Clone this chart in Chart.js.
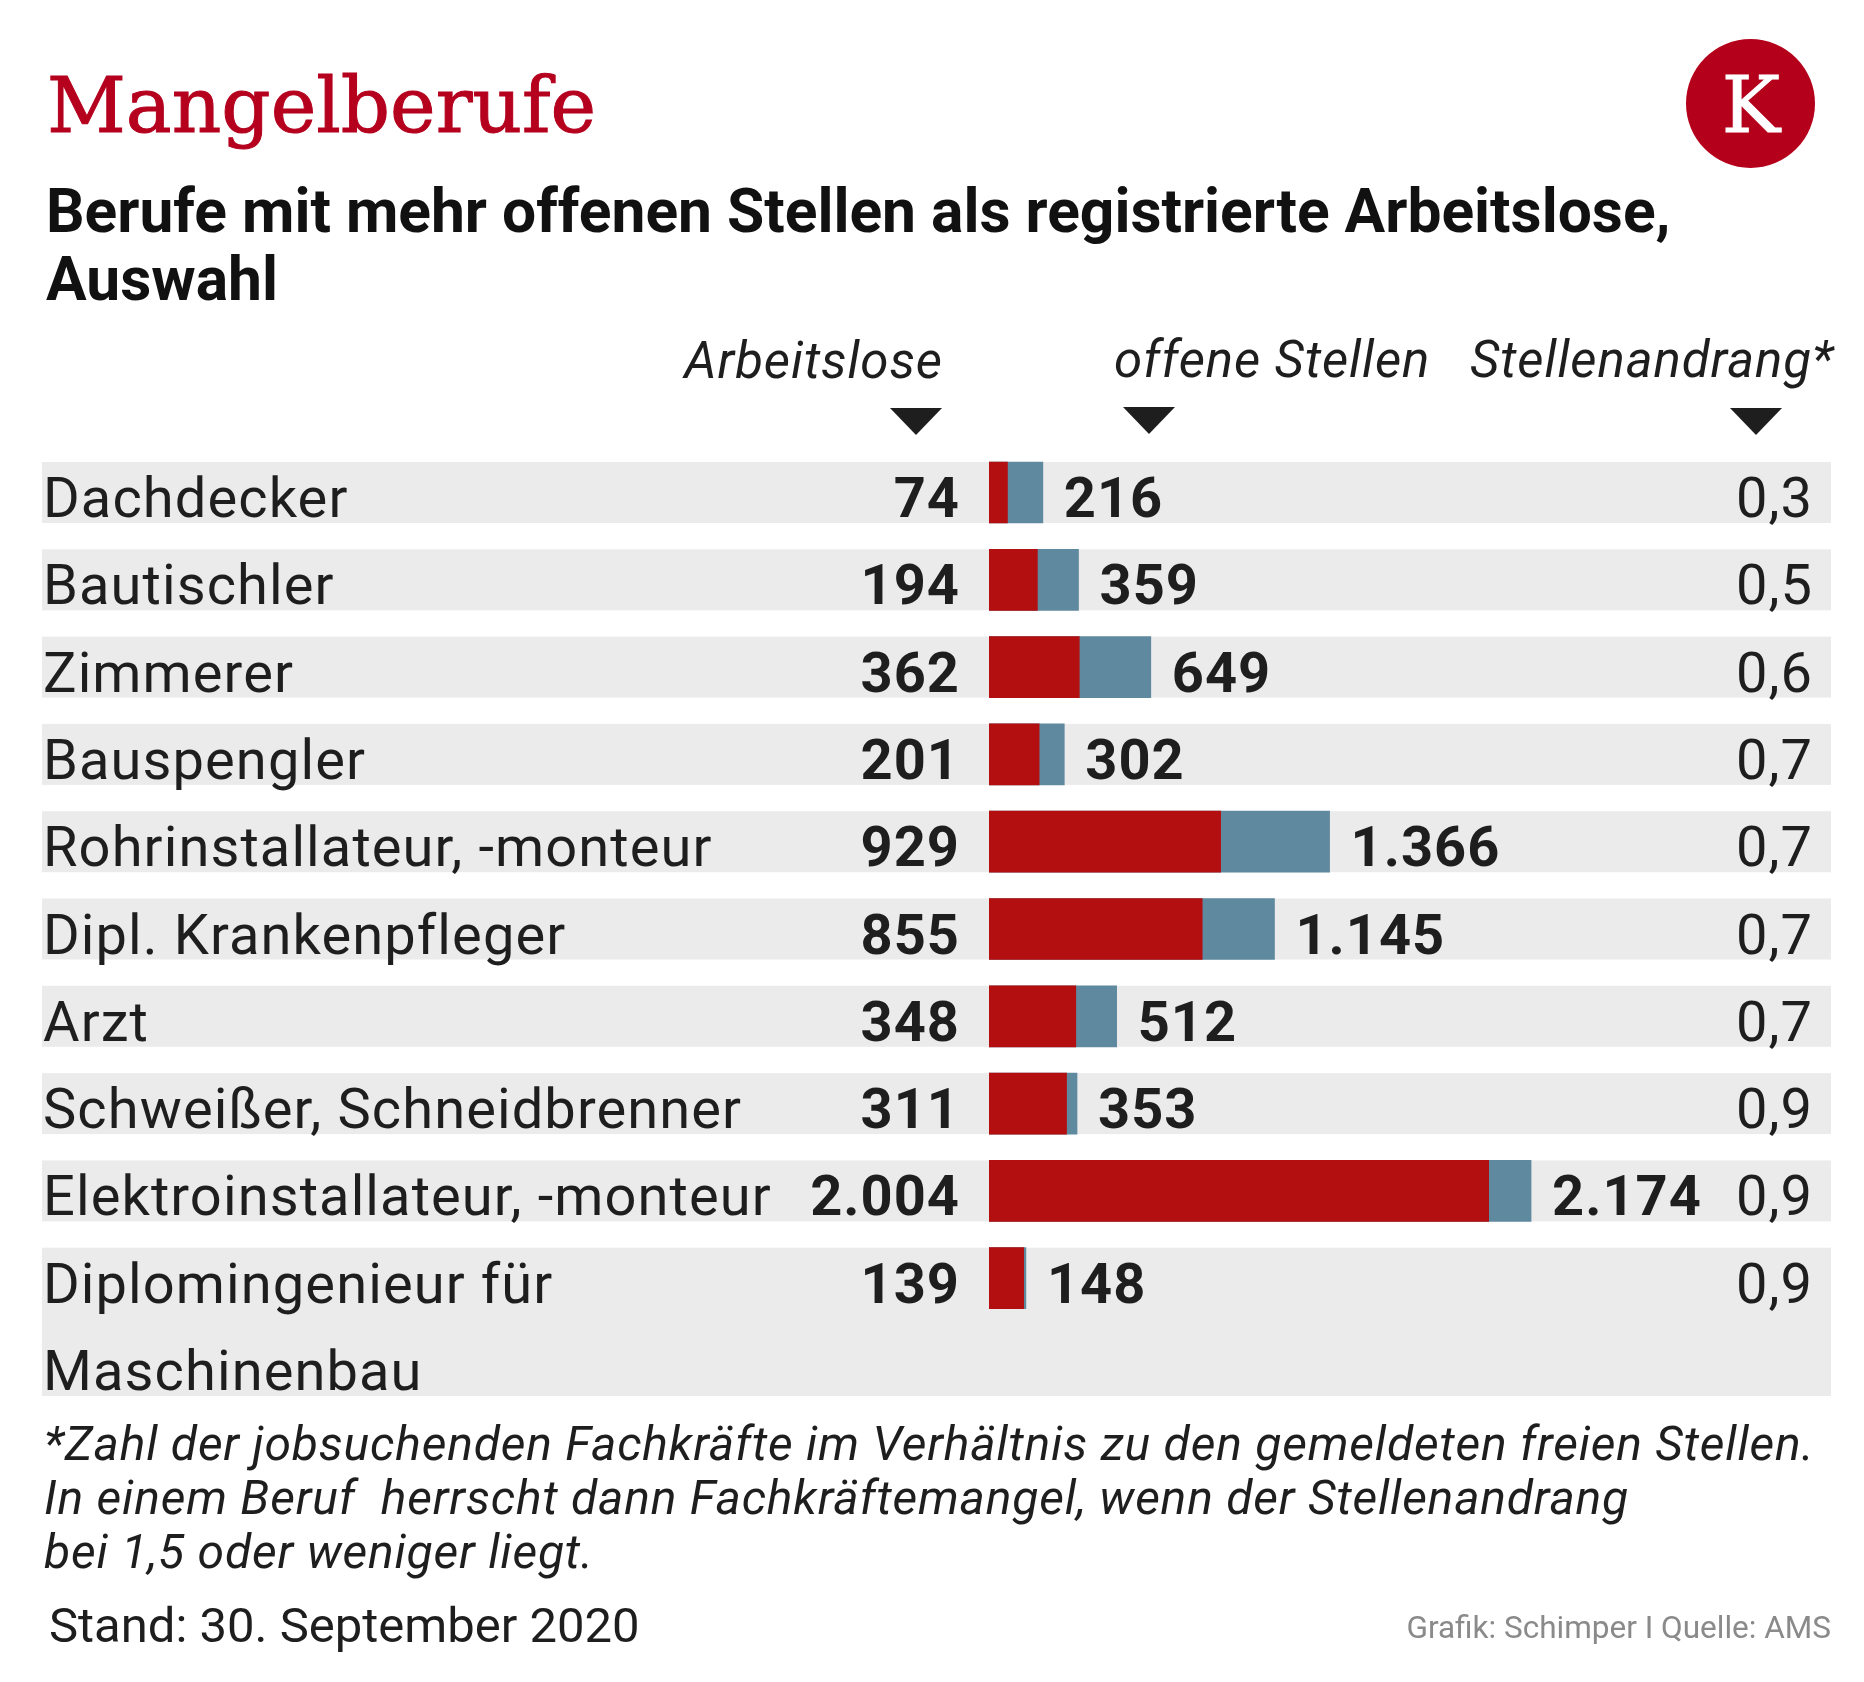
<!DOCTYPE html>
<html lang="de"><head><meta charset="utf-8">
<script src="https://cdn.jsdelivr.net/npm/chart.js@4.4.1/dist/chart.umd.min.js"></script>
<style>
html,body{margin:0;padding:0;background:#fff;}
#wrap{position:relative;width:1864px;height:1682px;overflow:hidden;font-family:Roboto,sans-serif;color:#1e1e1e;}
#chart{position:absolute;left:0;top:0;}
.t{position:absolute;white-space:pre;line-height:1;top:0;}
.tri{position:absolute;width:0;height:0;border-left:26px solid transparent;border-right:26px solid transparent;border-top:27px solid #1e1e1e;}
#logo{position:absolute;left:1686px;top:39px;width:129px;height:129px;border-radius:50%;background:#b5001c;}
.hdr{font-style:italic;font-size:51px;letter-spacing:0.9px;}
</style></head><body>
<div id="wrap">
<canvas id="chart" width="1864" height="1682"></canvas>
<div class="t" id="title" data-b="132" style="left:47px;font-family:'DejaVu Serif',serif;font-size:77px;color:#b5001e;-webkit-text-stroke:1px #b5001e;">Mangelberufe</div>
<div id="logo"></div>
<div class="t" id="logoK" data-b="131.5" style="left:1751px;transform:translateX(-50%);font-family:'DejaVu Serif',serif;font-size:78px;color:#fff;-webkit-text-stroke:1px #fff;">K</div>
<div class="t" id="sub" data-b="232" style="left:46px;font-weight:700;font-size:60.5px;line-height:68px;color:#111;">Berufe mit mehr offenen Stellen als registrierte Arbeitslose,
Auswahl</div>
<div class="t hdr" id="h1" data-b="378" style="right:921px;"></div>
<div class="t hdr" id="h2" data-b="377" style="left:1114px;"></div>
<div class="t hdr" id="h3" data-b="377" style="left:1470px;"></div>
<div class="tri" style="left:890px;top:408px;"></div>
<div class="tri" style="left:1123px;top:407px;"></div>
<div class="tri" style="left:1730px;top:408px;"></div>
<div class="t" id="foot" data-b="1460" style="left:44px;font-style:italic;font-size:48px;line-height:54px;letter-spacing:0.8px;">*Zahl der jobsuchenden Fachkräfte im Verhältnis zu den gemeldeten freien Stellen.
In einem Beruf  herrscht dann Fachkräftemangel, wenn der Stellenandrang
bei 1,5 oder weniger liegt.</div>
<div class="t" id="stand" data-b="1642" style="left:49px;font-size:49px;">Stand: 30. September 2020</div>
<div class="t" id="src" data-b="1638" style="right:33px;font-size:31.5px;color:#8a8a8a;">Grafik: Schimper I Quelle: AMS</div>
</div>
<script>
// ---- data ----
const categories = ['Dachdecker','Bautischler','Zimmerer','Bauspengler','Rohrinstallateur, -monteur','Dipl. Krankenpfleger','Arzt','Schweißer, Schneidbrenner','Elektroinstallateur, -monteur',['Diplomingenieur für','Maschinenbau']];
const arbeitslose = [74,194,362,201,929,855,348,311,2004,139];
const offeneStellen = [216,359,649,302,1366,1145,512,353,2174,148];
const stellenandrang = [0.3,0.5,0.6,0.7,0.7,0.7,0.7,0.9,0.9,0.9];
const columnHeaders = ['Arbeitslose','offene Stellen','Stellenandrang*'];

document.getElementById('h1').textContent = columnHeaders[0];
document.getElementById('h2').textContent = columnHeaders[1];
document.getElementById('h3').textContent = columnHeaders[2];

function fmtInt(n){ return n>=1000 ? Math.floor(n/1000)+'.'+String(n%1000).padStart(3,'0') : String(n); }
function fmtDec(v){ return v.toFixed(1).replace('.',','); }

const BAR = 61, BAND_L = 42, BAND_R = 1831, BASE_OFF = 55;
const LABEL_X = 43, ARB_X = 960, RATIO_X = 1813, VAL_GAP = 21;
const FONT_SIZE = 56;

const rowPlugin = {
  id:'rows',
  beforeDatasetsDraw(chart){
    const {ctx, scales:{y}} = chart;
    const pitch = y.getPixelForValue(1) - y.getPixelForValue(0);
    ctx.save();
    ctx.fillStyle = '#ebebeb';
    categories.forEach((c,i)=>{
      const n = Array.isArray(c) ? c.length : 1;
      const top = y.getPixelForValue(i) - BAR/2;
      ctx.fillRect(BAND_L, top, BAND_R-BAND_L, BAR + pitch*(n-1));
    });
    ctx.restore();
  },
  afterDatasetsDraw(chart){
    const {ctx, scales:{x,y}} = chart;
    const pitch = y.getPixelForValue(1) - y.getPixelForValue(0);
    ctx.save();
    ctx.fillStyle = '#1e1e1e';
    ctx.textBaseline = 'alphabetic';
    categories.forEach((c,i)=>{
      const base = y.getPixelForValue(i) - BAR/2 + BASE_OFF;
      const lines = Array.isArray(c) ? c : [c];
      try { ctx.letterSpacing = '1.1px'; } catch(e){}
      ctx.font = '400 '+FONT_SIZE+'px Roboto';
      ctx.textAlign = 'left';
      lines.forEach((l,j)=>ctx.fillText(l, LABEL_X, base + j*pitch));
      try { ctx.letterSpacing = '1px'; } catch(e){}
      ctx.font = '700 '+FONT_SIZE+'px Roboto';
      ctx.textAlign = 'right';
      ctx.fillText(fmtInt(arbeitslose[i]), ARB_X, base);
      ctx.textAlign = 'left';
      ctx.fillText(fmtInt(offeneStellen[i]), x.getPixelForValue(offeneStellen[i]) + VAL_GAP, base);
      ctx.font = '400 '+FONT_SIZE+'px Roboto';
      ctx.textAlign = 'right';
      ctx.fillText(fmtDec(stellenandrang[i]), RATIO_X, base);
    });
    ctx.restore();
  }
};

const chart = new Chart(document.getElementById('chart'), {
  type:'bar',
  data:{
    labels: categories,
    datasets:[
      {label:columnHeaders[0], data:arbeitslose, backgroundColor:'#b40f10', grouped:false, barThickness:BAR, borderWidth:0},
      {label:columnHeaders[1], data:offeneStellen, backgroundColor:'#5f899f', grouped:false, barThickness:BAR, borderWidth:0}
    ]
  },
  options:{
    indexAxis:'y',
    responsive:false,
    animation:false,
    events:[],
    layout:{padding:{left:989, right:127, top:448.85, bottom:360.15}},
    scales:{
      x:{type:'linear', min:0, max:3000, display:false},
      y:{type:'category', display:false, offset:true}
    },
    plugins:{legend:{display:false}, title:{display:false}, tooltip:{enabled:false}}
  },
  plugins:[rowPlugin]
});

function placeAll(){
  const wrap = document.getElementById('wrap');
  const wr = wrap.getBoundingClientRect();
  document.querySelectorAll('.t').forEach(el=>{
    const target = parseFloat(el.dataset.b);
    const probe = document.createElement('span');
    probe.style.cssText = 'display:inline-block;width:0;height:0;';
    el.insertBefore(probe, el.firstChild);
    const cur = probe.getBoundingClientRect().top - wr.top;
    el.style.top = (parseFloat(el.style.top||'0') + (target - cur)) + 'px';
    el.removeChild(probe);
  });
}
placeAll();
if (document.fonts && document.fonts.ready) {
  document.fonts.ready.then(()=>{ placeAll(); chart.draw(); });
}
</script>
</body></html>
